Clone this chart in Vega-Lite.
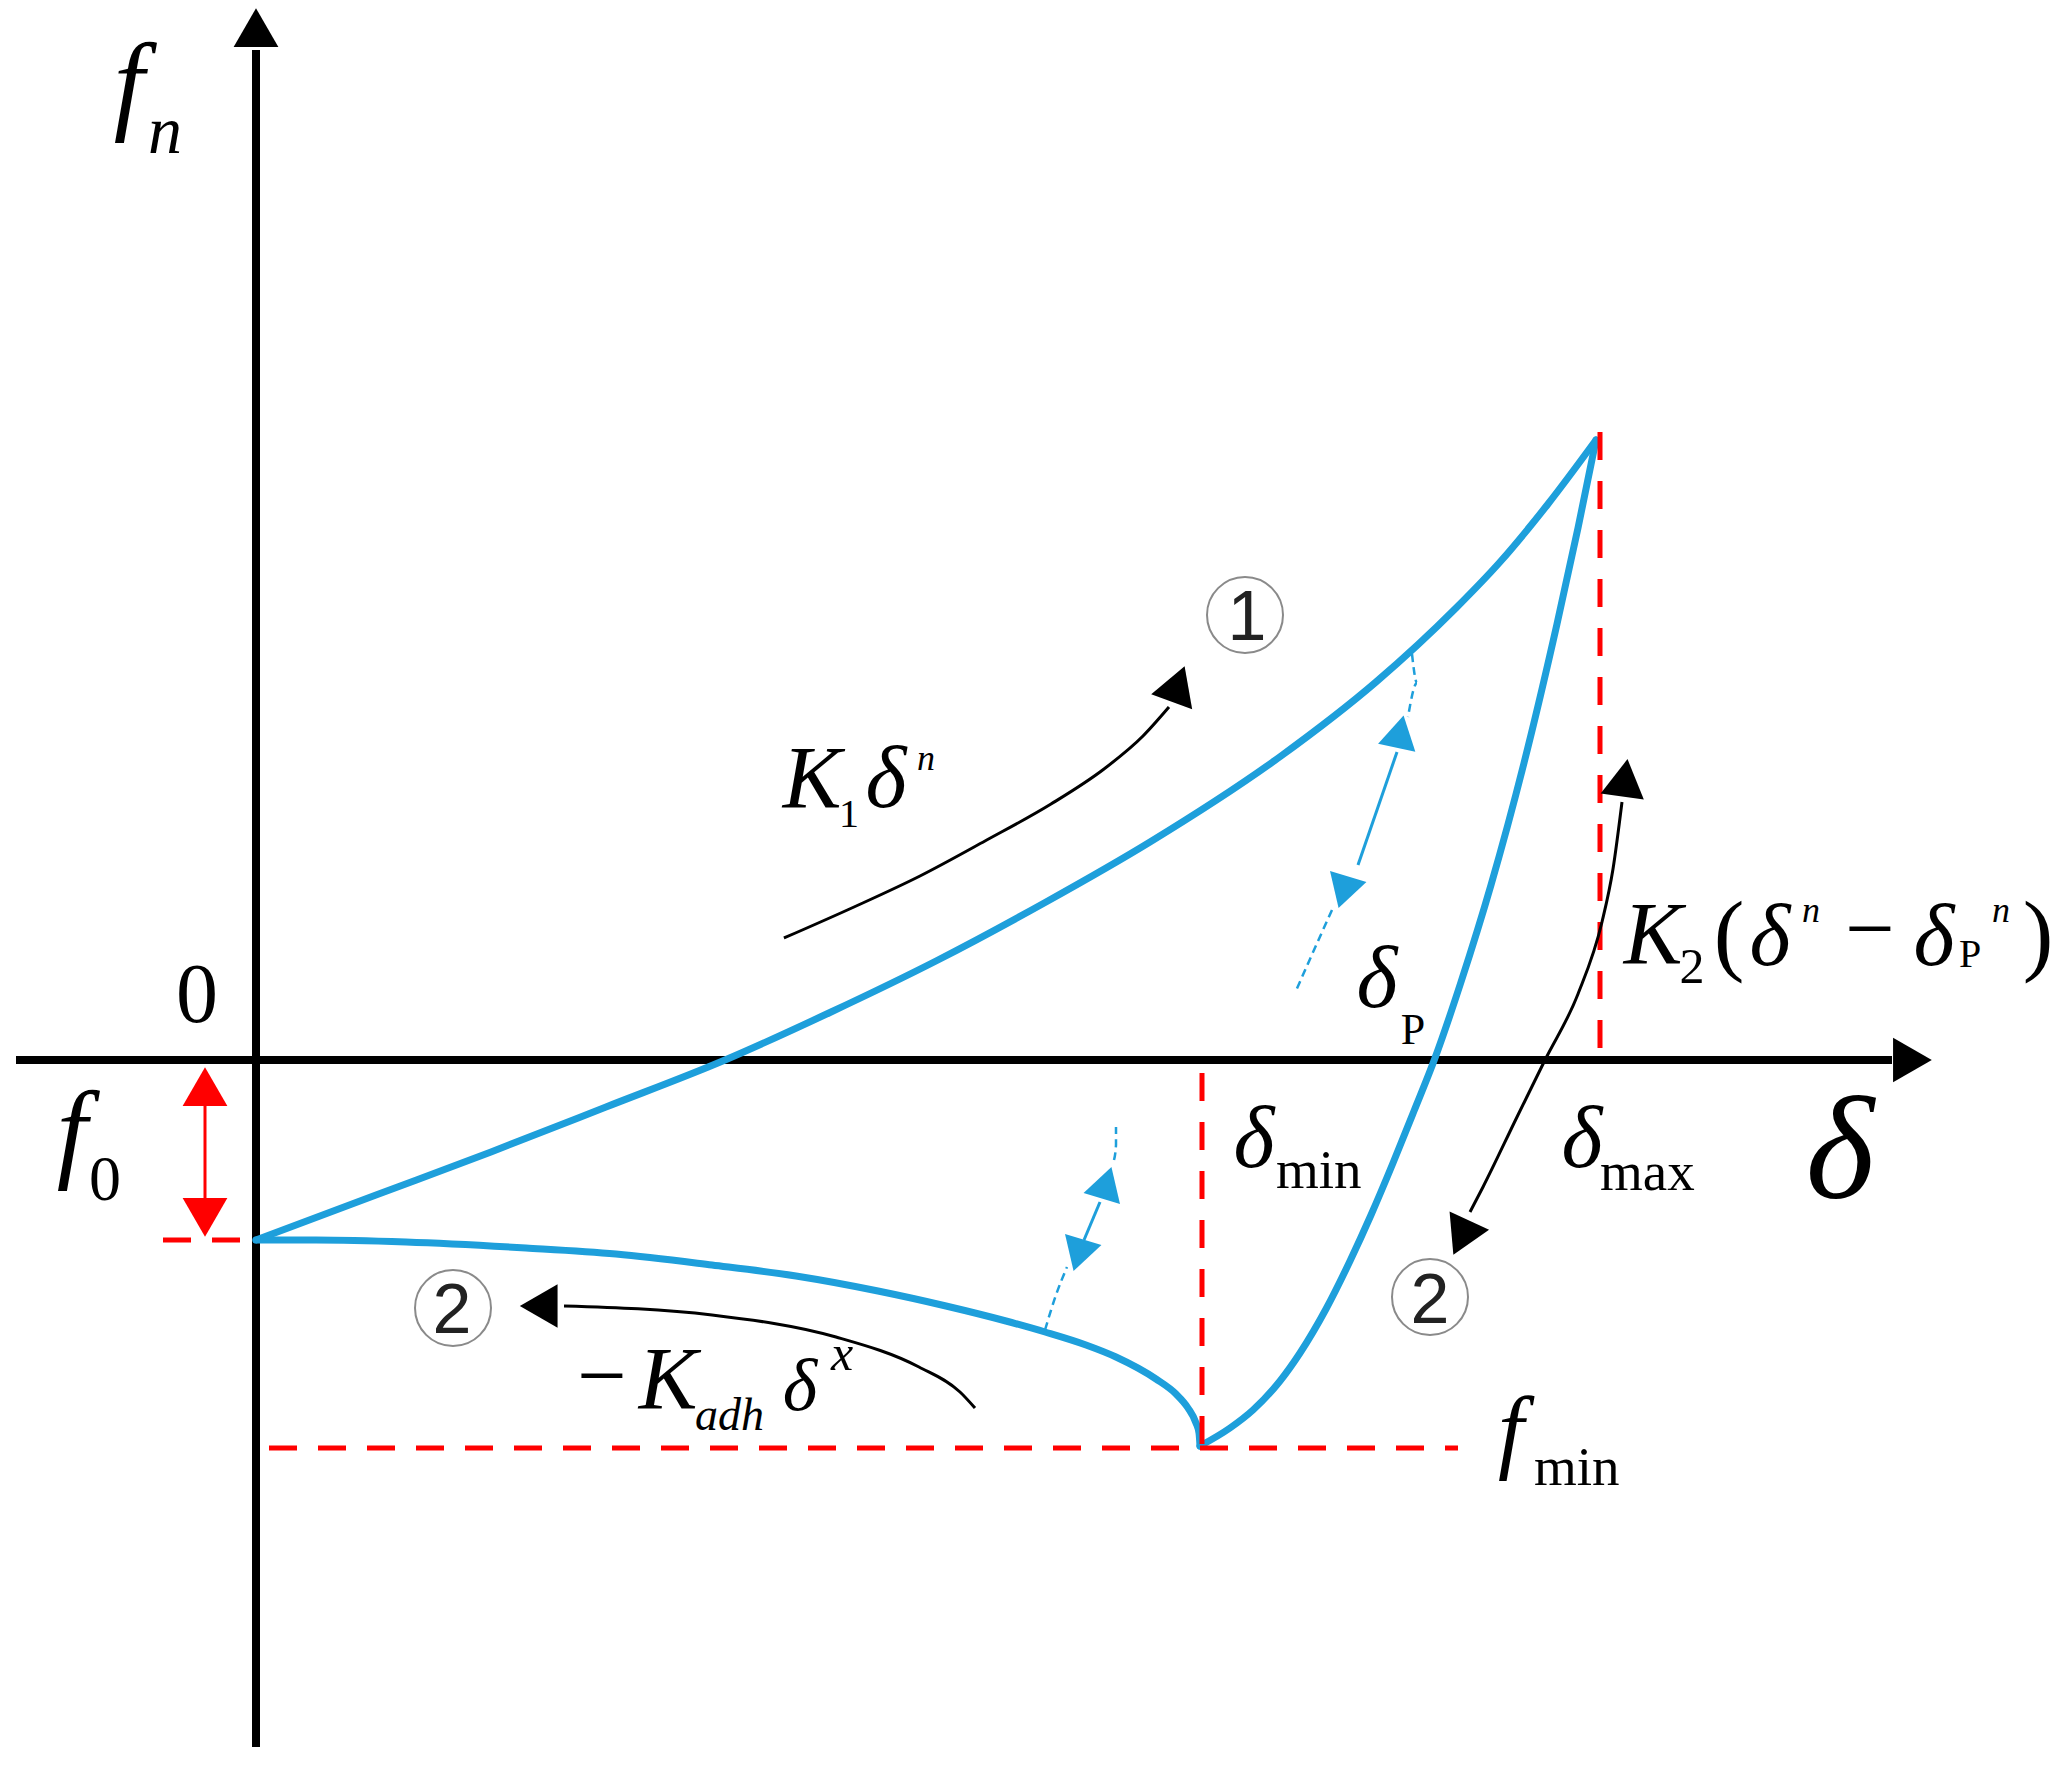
{
  "$schema": "https://vega.github.io/schema/vega-lite/v6.json",
  "width": 2060,
  "height": 1772,
  "autosize": {"type": "fit", "contains": "padding"},
  "padding": 0,
  "background": "white",
  "config": {"view": {"stroke": null}},
  "datasets": {
    "axes": [
      {"name": "delta axis", "d": -2.40, "f": 0, "d2": 16.36, "f2": 0},
      {"name": "fn axis", "d": 0, "f": -6.87, "d2": 0, "f2": 10.10}
    ],
    "blue": [
      {"s": "loading", "d": 0, "f": -1.80},
      {"s": "loading", "d": 1.2, "f": -1.35},
      {"s": "loading", "d": 2.35, "f": -0.92},
      {"s": "loading", "d": 3.5, "f": -0.47},
      {"s": "loading", "d": 4.69, "f": 0},
      {"s": "loading", "d": 5.75, "f": 0.48},
      {"s": "loading", "d": 6.8, "f": 0.99},
      {"s": "loading", "d": 7.9, "f": 1.58},
      {"s": "loading", "d": 8.94, "f": 2.18},
      {"s": "loading", "d": 10.25, "f": 3.04},
      {"s": "loading", "d": 11.2, "f": 3.78},
      {"s": "loading", "d": 12.0, "f": 4.52},
      {"s": "loading", "d": 12.44, "f": 4.98},
      {"s": "loading", "d": 12.92, "f": 5.56},
      {"s": "loading", "d": 13.40, "f": 6.20},
      {"s": "unloading", "d": 9.44, "f": -3.86},
      {"s": "unloading", "d": 9.74, "f": -3.68},
      {"s": "unloading", "d": 9.97, "f": -3.50},
      {"s": "unloading", "d": 10.24, "f": -3.21},
      {"s": "unloading", "d": 10.44, "f": -2.93},
      {"s": "unloading", "d": 10.70, "f": -2.49},
      {"s": "unloading", "d": 10.94, "f": -2.01},
      {"s": "unloading", "d": 11.15, "f": -1.55},
      {"s": "unloading", "d": 11.37, "f": -1.03},
      {"s": "unloading", "d": 11.58, "f": -0.51},
      {"s": "unloading", "d": 11.79, "f": 0.02},
      {"s": "unloading", "d": 12.05, "f": 0.78},
      {"s": "unloading", "d": 12.35, "f": 1.75},
      {"s": "unloading", "d": 12.68, "f": 2.97},
      {"s": "unloading", "d": 13.01, "f": 4.36},
      {"s": "unloading", "d": 13.22, "f": 5.32},
      {"s": "unloading", "d": 13.40, "f": 6.20},
      {"s": "adhesion", "d": 0, "f": -1.80},
      {"s": "adhesion", "d": 0.6, "f": -1.80},
      {"s": "adhesion", "d": 1.5, "f": -1.82},
      {"s": "adhesion", "d": 2.7, "f": -1.88},
      {"s": "adhesion", "d": 3.6, "f": -1.94},
      {"s": "adhesion", "d": 4.56, "f": -2.05},
      {"s": "adhesion", "d": 5.4, "f": -2.16},
      {"s": "adhesion", "d": 6.22, "f": -2.31},
      {"s": "adhesion", "d": 6.9, "f": -2.46},
      {"s": "adhesion", "d": 7.5, "f": -2.61},
      {"s": "adhesion", "d": 7.89, "f": -2.72},
      {"s": "adhesion", "d": 8.3, "f": -2.85},
      {"s": "adhesion", "d": 8.6, "f": -2.97},
      {"s": "adhesion", "d": 9.0, "f": -3.19},
      {"s": "adhesion", "d": 9.2, "f": -3.34},
      {"s": "adhesion", "d": 9.32, "f": -3.48},
      {"s": "adhesion", "d": 9.40, "f": -3.63},
      {"s": "adhesion", "d": 9.43, "f": -3.73},
      {"s": "adhesion", "d": 9.44, "f": -3.86}
    ],
    "reddash": [
      {"name": "f0", "d": -0.93, "f": -1.80, "d2": 0, "f2": -1.80},
      {"name": "fmin", "d": 0.13, "f": -3.88, "d2": 12.02, "f2": -3.88},
      {"name": "delta_min", "d": 9.46, "f": -0.13, "d2": 9.46, "f2": -3.88},
      {"name": "delta_max", "d": 13.44, "f": 6.28, "d2": 13.44, "f2": 0}
    ],
    "black": [
      {"s": "k1", "d": 5.28, "f": 1.22},
      {"s": "k1", "d": 5.98, "f": 1.53},
      {"s": "k1", "d": 6.64, "f": 1.84},
      {"s": "k1", "d": 7.29, "f": 2.19},
      {"s": "k1", "d": 7.95, "f": 2.56},
      {"s": "k1", "d": 8.48, "f": 2.91},
      {"s": "k1", "d": 8.87, "f": 3.24},
      {"s": "k1", "d": 9.13, "f": 3.53},
      {"s": "k2", "d": 12.14, "f": -1.52},
      {"s": "k2", "d": 12.27, "f": -1.27},
      {"s": "k2", "d": 12.61, "f": -0.57},
      {"s": "k2", "d": 12.89, "f": 0},
      {"s": "k2", "d": 13.22, "f": 0.66},
      {"s": "k2", "d": 13.46, "f": 1.38},
      {"s": "k2", "d": 13.57, "f": 1.91},
      {"s": "k2", "d": 13.66, "f": 2.58},
      {"s": "kadh", "d": 3.08, "f": -2.46},
      {"s": "kadh", "d": 4.56, "f": -2.55},
      {"s": "kadh", "d": 5.80, "f": -2.77},
      {"s": "kadh", "d": 6.63, "f": -3.07},
      {"s": "kadh", "d": 7.04, "f": -3.32},
      {"s": "kadh", "d": 7.19, "f": -3.48}
    ],
    "bluedash": [
      {"s": "up1", "o": 1, "d": 11.56, "f": 4.06},
      {"s": "up1", "o": 2, "d": 11.61, "f": 3.77},
      {"s": "up1", "o": 3, "d": 11.52, "f": 3.43},
      {"s": "up2", "o": 1, "d": 10.76, "f": 1.50},
      {"s": "up2", "o": 2, "d": 10.58, "f": 1.10},
      {"s": "up2", "o": 3, "d": 10.39, "f": 0.67},
      {"s": "lo1", "o": 1, "d": 7.89, "f": -2.70},
      {"s": "lo1", "o": 2, "d": 8.00, "f": -2.35},
      {"s": "lo1", "o": 3, "d": 8.11, "f": -2.07},
      {"s": "lo2", "o": 1, "d": 8.58, "f": -1.00},
      {"s": "lo2", "o": 2, "d": 8.60, "f": -0.85},
      {"s": "lo2", "o": 3, "d": 8.60, "f": -0.67}
    ],
    "bluesolid": [
      {"name": "upper", "d": 11.41, "f": 3.08, "d2": 11.02, "f2": 1.95},
      {"name": "lower", "d": 8.28, "f": -1.80, "d2": 8.44, "f2": -1.42}
    ]
  },
  "encoding": {
    "x": {"field": "d", "type": "quantitative", "scale": {"domain": [-2.56, 18.04], "nice": false, "zero": false}, "axis": null},
    "y": {"field": "f", "type": "quantitative", "scale": {"domain": [-7.12, 10.60], "nice": false, "zero": false}, "axis": null}
  },
  "layer": [
    {
      "data": {"name": "axes"},
      "mark": {"type": "rule", "color": "black", "strokeWidth": 8},
      "encoding": {"x2": {"field": "d2"}, "y2": {"field": "f2"}}
    },
    {
      "data": {"values": [{"name": "fn arrow", "d": 0, "f": 10.26}]},
      "mark": {"type": "point", "shape": "triangle", "filled": true, "color": "black", "opacity": 1, "size": 2000, "angle": 0}
    },
    {
      "data": {"values": [{"name": "delta arrow", "d": 16.50, "f": 0}]},
      "mark": {"type": "point", "shape": "triangle", "filled": true, "color": "black", "opacity": 1, "size": 2000, "angle": 90}
    },
    {
      "data": {"name": "blue"},
      "mark": {"type": "line", "color": "#1E9FDB", "strokeWidth": 7, "interpolate": "monotone", "strokeCap": "round"},
      "encoding": {"detail": {"field": "s"}}
    },
    {
      "data": {"name": "reddash"},
      "mark": {"type": "rule", "color": "#FF0000", "strokeWidth": 5, "strokeDash": [28, 21]},
      "encoding": {"x2": {"field": "d2"}, "y2": {"field": "f2"}}
    },
    {
      "data": {"values": [{"name": "f0 span", "d": -0.51, "f": -0.45, "d2": -0.51, "f2": -1.40}]},
      "mark": {"type": "rule", "color": "#FF0000", "strokeWidth": 3},
      "encoding": {"x2": {"field": "d2"}, "y2": {"field": "f2"}}
    },
    {
      "data": {"values": [{"name": "f0 top", "d": -0.51, "f": -0.33}]},
      "mark": {"type": "point", "shape": "triangle", "filled": true, "color": "#FF0000", "opacity": 1, "size": 2000, "angle": 0}
    },
    {
      "data": {"values": [{"name": "f0 bottom", "d": -0.51, "f": -1.51}]},
      "mark": {"type": "point", "shape": "triangle", "filled": true, "color": "#FF0000", "opacity": 1, "size": 2000, "angle": 180}
    },
    {
      "data": {"name": "bluedash"},
      "mark": {"type": "line", "color": "#1E9FDB", "strokeWidth": 2.5, "strokeDash": [8, 5], "interpolate": "monotone"},
      "encoding": {"detail": {"field": "s"}, "order": {"field": "o"}}
    },
    {
      "data": {"name": "bluesolid"},
      "mark": {"type": "rule", "color": "#1E9FDB", "strokeWidth": 3},
      "encoding": {"x2": {"field": "d2"}, "y2": {"field": "f2"}}
    },
    {
      "data": {"values": [{"name": "upper up", "d": 11.43, "f": 3.23}]},
      "mark": {"type": "point", "shape": "triangle", "filled": true, "color": "#1E9FDB", "opacity": 1, "size": 1450, "angle": 12}
    },
    {
      "data": {"values": [{"name": "upper down", "d": 10.89, "f": 1.73}, {"name": "lower down", "d": 8.24, "f": -1.90}]},
      "mark": {"type": "point", "shape": "triangle", "filled": true, "color": "#1E9FDB", "opacity": 1, "size": 1450, "angle": 197}
    },
    {
      "data": {"values": [{"name": "lower up", "d": 8.49, "f": -1.28}]},
      "mark": {"type": "point", "shape": "triangle", "filled": true, "color": "#1E9FDB", "opacity": 1, "size": 1450, "angle": 17}
    },
    {
      "data": {"name": "black"},
      "mark": {"type": "line", "color": "black", "strokeWidth": 3, "interpolate": "monotone"},
      "encoding": {"detail": {"field": "s"}}
    },
    {
      "data": {"values": [{"name": "k1 head", "d": 9.20, "f": 3.70}]},
      "mark": {"type": "point", "shape": "triangle", "filled": true, "color": "black", "opacity": 1, "size": 1900, "angle": 20}
    },
    {
      "data": {"values": [{"name": "k2 top head", "d": 13.68, "f": 2.76}]},
      "mark": {"type": "point", "shape": "triangle", "filled": true, "color": "black", "opacity": 1, "size": 1900, "angle": 8}
    },
    {
      "data": {"values": [{"name": "k2 bottom head", "d": 12.08, "f": -1.72}]},
      "mark": {"type": "point", "shape": "triangle", "filled": true, "color": "black", "opacity": 1, "size": 1900, "angle": 205}
    },
    {
      "data": {"values": [{"name": "kadh head", "d": 2.89, "f": -2.46}]},
      "mark": {"type": "point", "shape": "triangle", "filled": true, "color": "black", "opacity": 1, "size": 1900, "angle": 270}
    },
    {
      "data": {"values": [{"name": "c1", "d": 9.89, "f": 4.45}, {"name": "c2 right", "d": 11.74, "f": -2.37}, {"name": "c2 left", "d": 1.97, "f": -2.48}]},
      "mark": {"type": "point", "shape": "circle", "filled": false, "stroke": "#8a8a8a", "strokeWidth": 2, "opacity": 1, "size": 5776}
    },
    {
      "data": {"values": [{"t": "1", "d": 9.91, "f": 4.20}, {"t": "2", "d": 11.74, "f": -2.63}, {"t": "2", "d": 1.96, "f": -2.73}]},
      "mark": {"type": "text", "font": "Liberation Sans", "fontSize": 70, "baseline": "alphabetic", "align": "center", "color": "#222"},
      "encoding": {"text": {"field": "t"}}
    },
    {
      "data": {"values": [{"t": "f", "d": -1.27, "f": 9.40}, {"t": "f", "d": -1.84, "f": -1.08}]},
      "mark": {"type": "text", "font": "Liberation Serif", "fontStyle": "italic", "fontSize": 110, "baseline": "alphabetic", "align": "center", "color": "black"},
      "encoding": {"text": {"field": "t"}}
    },
    {
      "data": {"values": [{"t": "f", "d": 12.55, "f": -4.01}]},
      "mark": {"type": "text", "font": "Liberation Serif", "fontStyle": "italic", "fontSize": 93, "baseline": "alphabetic", "align": "center", "color": "black"},
      "encoding": {"text": {"field": "t"}}
    },
    {
      "data": {"values": [{"t": "δ", "d": 15.84, "f": -1.38}]},
      "mark": {"type": "text", "font": "Liberation Serif", "fontStyle": "italic", "fontSize": 147, "baseline": "alphabetic", "align": "center", "color": "black"},
      "encoding": {"text": {"field": "t"}}
    },
    {
      "data": {"values": [
        {"t": "δ", "d": 13.26, "f": -1.07},
        {"t": "δ", "d": 9.98, "f": -1.07},
        {"t": "δ", "d": 11.21, "f": 0.53},
        {"t": "K", "d": 5.56, "f": 2.53},
        {"t": "δ", "d": 6.30, "f": 2.53},
        {"t": "K", "d": 13.97, "f": 0.97},
        {"t": "δ", "d": 15.14, "f": 0.95},
        {"t": "δ", "d": 16.78, "f": 0.95},
        {"t": "K", "d": 4.12, "f": -3.48}
      ]},
      "mark": {"type": "text", "font": "Liberation Serif", "fontStyle": "italic", "fontSize": 88, "baseline": "alphabetic", "align": "center", "color": "black"},
      "encoding": {"text": {"field": "t"}}
    },
    {
      "data": {"values": [{"t": "δ", "d": 5.44, "f": -3.50}]},
      "mark": {"type": "text", "font": "Liberation Serif", "fontStyle": "italic", "fontSize": 74, "baseline": "alphabetic", "align": "center", "color": "black"},
      "encoding": {"text": {"field": "t"}}
    },
    {
      "data": {"values": [{"t": "n", "d": -0.91, "f": 9.07}]},
      "mark": {"type": "text", "font": "Liberation Serif", "fontStyle": "italic", "fontSize": 68, "baseline": "alphabetic", "align": "center", "color": "black"},
      "encoding": {"text": {"field": "t"}}
    },
    {
      "data": {"values": [{"t": "n", "d": 6.70, "f": 2.90}, {"t": "n", "d": 15.55, "f": 1.38}, {"t": "n", "d": 17.45, "f": 1.38}]},
      "mark": {"type": "text", "font": "Liberation Serif", "fontStyle": "italic", "fontSize": 36, "baseline": "alphabetic", "align": "center", "color": "black"},
      "encoding": {"text": {"field": "t"}}
    },
    {
      "data": {"values": [{"t": "adh", "d": 4.39, "f": -3.70}]},
      "mark": {"type": "text", "font": "Liberation Serif", "fontStyle": "italic", "fontSize": 46, "baseline": "alphabetic", "align": "left", "color": "black"},
      "encoding": {"text": {"field": "t"}}
    },
    {
      "data": {"values": [{"t": "x", "d": 5.86, "f": -3.10}]},
      "mark": {"type": "text", "font": "Liberation Serif", "fontStyle": "italic", "fontSize": 50, "baseline": "alphabetic", "align": "center", "color": "black"},
      "encoding": {"text": {"field": "t"}}
    },
    {
      "data": {"values": [{"t": "0", "d": -0.59, "f": 0.38}]},
      "mark": {"type": "text", "font": "Liberation Serif", "fontSize": 84, "baseline": "alphabetic", "align": "center", "color": "black"},
      "encoding": {"text": {"field": "t"}}
    },
    {
      "data": {"values": [{"t": "0", "d": -1.51, "f": -1.40}]},
      "mark": {"type": "text", "font": "Liberation Serif", "fontSize": 64, "baseline": "alphabetic", "align": "center", "color": "black"},
      "encoding": {"text": {"field": "t"}}
    },
    {
      "data": {"values": [{"t": "max", "d": 13.44, "f": -1.30}, {"t": "min", "d": 10.20, "f": -1.28}, {"t": "min", "d": 12.78, "f": -4.25}]},
      "mark": {"type": "text", "font": "Liberation Serif", "fontSize": 55, "baseline": "alphabetic", "align": "left", "color": "black"},
      "encoding": {"text": {"field": "t"}}
    },
    {
      "data": {"values": [{"t": "P", "d": 11.57, "f": 0.16}]},
      "mark": {"type": "text", "font": "Liberation Serif", "fontSize": 44, "baseline": "alphabetic", "align": "center", "color": "black"},
      "encoding": {"text": {"field": "t"}}
    },
    {
      "data": {"values": [{"t": "1", "d": 5.93, "f": 2.33}, {"t": "P", "d": 17.14, "f": 0.93}]},
      "mark": {"type": "text", "font": "Liberation Serif", "fontSize": 40, "baseline": "alphabetic", "align": "center", "color": "black"},
      "encoding": {"text": {"field": "t"}}
    },
    {
      "data": {"values": [{"t": "2", "d": 14.36, "f": 0.77}]},
      "mark": {"type": "text", "font": "Liberation Serif", "fontSize": 50, "baseline": "alphabetic", "align": "center", "color": "black"},
      "encoding": {"text": {"field": "t"}}
    },
    {
      "data": {"values": [{"t": "(", "d": 14.73, "f": 0.96}, {"t": ")", "d": 17.82, "f": 0.96}]},
      "mark": {"type": "text", "font": "Liberation Serif", "fontSize": 92, "baseline": "alphabetic", "align": "center", "color": "black"},
      "encoding": {"text": {"field": "t"}}
    },
    {
      "data": {"values": [{"t": "−", "d": 16.14, "f": 1.02}, {"t": "−", "d": 3.46, "f": -3.45}]},
      "mark": {"type": "text", "font": "Liberation Serif", "fontSize": 88, "baseline": "alphabetic", "align": "center", "color": "black"},
      "encoding": {"text": {"field": "t"}}
    }
  ]
}
